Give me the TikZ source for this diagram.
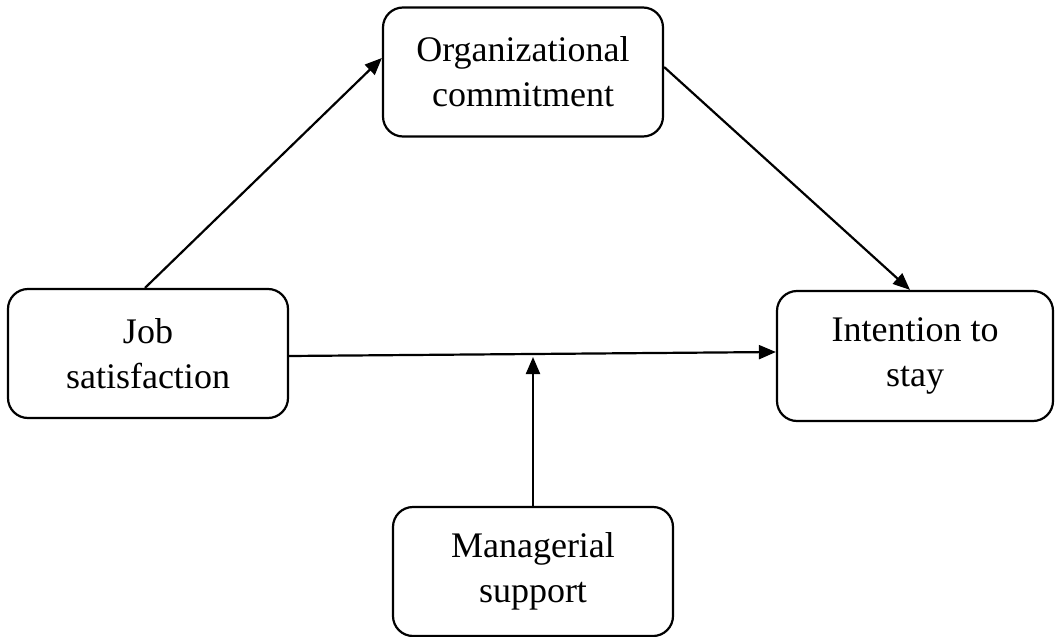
\documentclass[tikz,border=0pt]{standalone}
\usepackage{fontspec}
\setmainfont{Liberation Serif}
\usetikzlibrary{arrows.meta,calc}
\begin{document}
\begin{tikzpicture}[x=1pt,y=-1pt,
  box/.style={draw, line width=2.2pt, rounded corners=20pt, minimum width=280pt, minimum height=129pt, align=center, font=\fontsize{36}{45}\selectfont, inner sep=0pt},
  arr/.style={line width=2.2pt, -{Triangle[length=17pt,width=14pt]}}]
\useasboundingbox (0,0) rectangle (1058,637);
\node[box] (org) at (523,72) {Organizational\\commitment};
\node[box] (job) at (148,353.5) {Job\\satisfaction};
\node[box, minimum width=276pt, minimum height=130pt] (int) at (915,356) {Intention to\\stay};
\node[box] (man) at (533,571.5) {Managerial\\support};
\draw[arr] ([xshift=-3pt]job.north) -- ([yshift=14pt]org.west);
\draw[arr] ([yshift=5pt]org.east) -- ([xshift=-5pt]int.north);
\draw[arr] ([yshift=-2.5pt]job.east) -- ([yshift=4pt]int.west);
\draw[arr] (man.north) -- ([yshift=-3.5pt]man.north |- job.east);
\end{tikzpicture}
\end{document}
